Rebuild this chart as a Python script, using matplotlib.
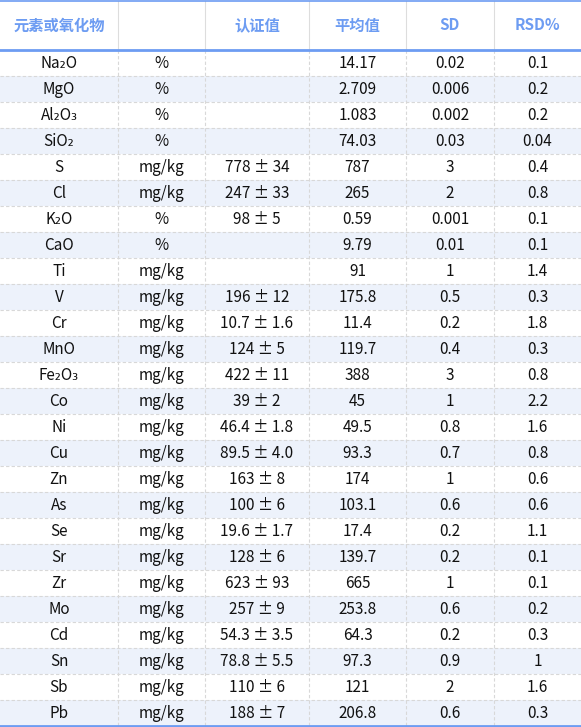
import matplotlib
matplotlib.use("Agg")
import matplotlib.pyplot as plt

headers = ["元素或氧化物", "", "认证值", "平均值", "SD", "RSD%"]
elements = ["Na₂O","MgO","Al₂O₃","SiO₂","S","Cl","K₂O","CaO","Ti","V","Cr","MnO","Fe₂O₃","Co","Ni","Cu","Zn","As","Se","Sr","Zr","Mo","Cd","Sn","Sb","Pb"]
units = ["%","%","%","%","mg/kg","mg/kg","%","%","mg/kg","mg/kg","mg/kg","mg/kg","mg/kg","mg/kg","mg/kg","mg/kg","mg/kg","mg/kg","mg/kg","mg/kg","mg/kg","mg/kg","mg/kg","mg/kg","mg/kg","mg/kg"]
certified = ["","","","","778 ± 34","247 ± 33","98 ± 5","","","196 ± 12","10.7 ± 1.6","124 ± 5","422 ± 11","39 ± 2","46.4 ± 1.8","89.5 ± 4.0","163 ± 8","100 ± 6","19.6 ± 1.7","128 ± 6","623 ± 93","257 ± 9","54.3 ± 3.5","78.8 ± 5.5","110 ± 6","188 ± 7"]
means = ["14.17","2.709","1.083","74.03","787","265","0.59","9.79","91","175.8","11.4","119.7","388","45","49.5","93.3","174","103.1","17.4","139.7","665","253.8","64.3","97.3","121","206.8"]
sds = ["0.02","0.006","0.002","0.03","3","2","0.001","0.01","1","0.5","0.2","0.4","3","1","0.8","0.7","1","0.6","0.2","0.2","1","0.6","0.2","0.9","2","0.6"]
rsds = ["0.1","0.2","0.2","0.04","0.4","0.8","0.1","0.1","1.4","0.3","1.8","0.3","0.8","2.2","1.6","0.8","0.6","0.6","1.1","0.1","0.1","0.2","0.3","1","1.6","0.3"]

W, H = 581, 727
fig = plt.figure(figsize=(W/100, H/100), dpi=100)
ax = fig.add_axes([0, 0, 1, 1])
ax.set_xlim(0, W); ax.set_ylim(H, 0); ax.axis("off")

fam = ["Noto Sans CJK SC", "DejaVu Sans"]
xs = [0, 118, 205, 309, 406, 494, 581]
top, hb, rh = 1, 50, 26
blue = "#6d9cf2"
cols = [elements, units, certified, means, sds, rsds]
n = len(elements)

for i in range(n):
    y0 = hb + i*rh
    if i % 2 == 1:
        ax.add_patch(plt.Rectangle((0, y0), W, rh, color="#edf2fb", lw=0, zorder=0))
    for j, c in enumerate(cols):
        ax.text((xs[j]+xs[j+1])/2, y0+rh/2+0.5, c[i], ha="center", va="center",
                fontsize=11, family=fam, color="#111111")
    if i > 0:
        ax.plot([0, W], [y0, y0], color="#d8d8d8", lw=0.8, ls=(0, (3, 2)), zorder=1)

for j, h in enumerate(headers):
    ax.text((xs[j]+xs[j+1])/2, (top+hb)/2, h, ha="center", va="center",
            fontsize=11, family=fam, color=blue, weight="bold")

bottom = hb + n*rh
for x in xs[1:-1]:
    ax.plot([x, x], [top, hb], color="#dddddd", lw=0.8, zorder=1)
    ax.plot([x, x], [hb, bottom], color="#d8d8d8", lw=0.8, ls=(0, (3, 2)), zorder=1)
ax.plot([0, W], [top, top], color=blue, lw=1.2)
ax.plot([0, W], [hb, hb], color=blue, lw=2)
ax.plot([0, W], [bottom, bottom], color=blue, lw=2)

fig.savefig("out.png", dpi=100)
